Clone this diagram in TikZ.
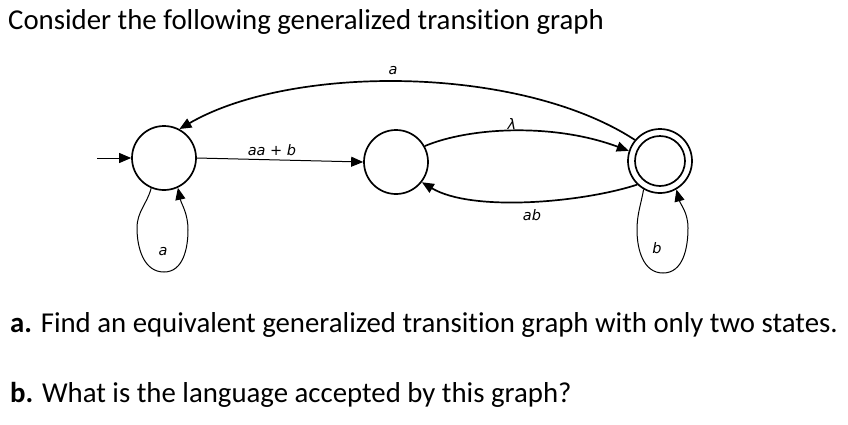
\documentclass[tikz,border=0pt]{standalone}
\usepackage{fontspec}
\setmainfont{Carlito}[Ligatures=NoCommon]
\newfontfamily\lblfont{DejaVu Sans}
\usetikzlibrary{arrows.meta}
\begin{document}
\begin{tikzpicture}[x=1pt,y=1pt,
  stnode/.style={circle,draw,line width=1.7pt,minimum size=64pt,inner sep=0pt},
  innode/.style={circle,draw,line width=1.7pt,minimum size=50pt,inner sep=0pt},
  tip/.style={-{Triangle[length=12pt,width=10pt]}},
  thinedge/.style={line width=1pt,tip},
  thickedge/.style={line width=1.7pt,tip},
  lbl/.style={font=\lblfont\itshape\fontsize{14.5}{16}\selectfont,inner sep=0pt},
  txt/.style={font=\fontsize{28.8}{34}\selectfont,anchor=base west,inner sep=0pt}]
\useasboundingbox (0,0) rectangle (848,-424);
% states
\node[stnode] (q1) at (164,-158) {};
\node[stnode] (q2) at (396,-162) {};
\node[stnode] (q3) at (660,-161) {};
\node[innode] (q3in) at (q3.center) {};
% initial arrow
\coordinate (init) at (97,-158);
\draw[thinedge] (init) -- (q1.west);
% aa+b
\draw[thinedge] (q1.east) -- (q2.west);
\node[lbl] (laab) at (272,-150) {aa + b};
% top a
\draw[thickedge] (q3.140) .. controls +(-115,75) and +(112,65) .. (q1.62);
\node[lbl] (la) at (393,-71) {a};
% lambda
\draw[thickedge] (q2.29) .. controls +(45,19) and +(-75,28) .. (q3.162);
\node[lbl] (llam) at (512,-124) {λ};
% ab
\draw[thickedge] (q3.226) .. controls +(-55,-18) and +(50,-30) .. (q2.322);
\node[lbl] (lab) at (532,-215) {ab};
% loop q1
\coordinate (l1b) at (164,-272);
\draw[line width=1pt] (q1.247) to[out=255,in=90] (137,-228) to[out=-90,in=180] (l1b);
\draw[thinedge] (l1b) to[out=0,in=-90] (188,-230) to[out=90,in=-78] (q1.295);
\node[lbl] (lloop1) at (163,-252) {a};
% loop q3
\coordinate (l3b) at (663,-273);
\draw[line width=1pt] (q3.240) to[out=260,in=90] (637,-230) to[out=-90,in=180] (l3b);
\draw[thinedge] (l3b) to[out=0,in=-90] (688,-228) to[out=90,in=-75] (q3.300);
\node[lbl] (lloop3) at (657,-248) {b};
% texts
\node[txt] (title) at (8,-29) {Consider the following generalized transition graph};
\node[txt] (qa) at (10,-332) {\textbf{a.} Find an equivalent generalized transition graph with only two states.};
\node[txt] (qb) at (10,-402) {\textbf{b.} What is the language accepted by this graph?};
\end{tikzpicture}
\end{document}
